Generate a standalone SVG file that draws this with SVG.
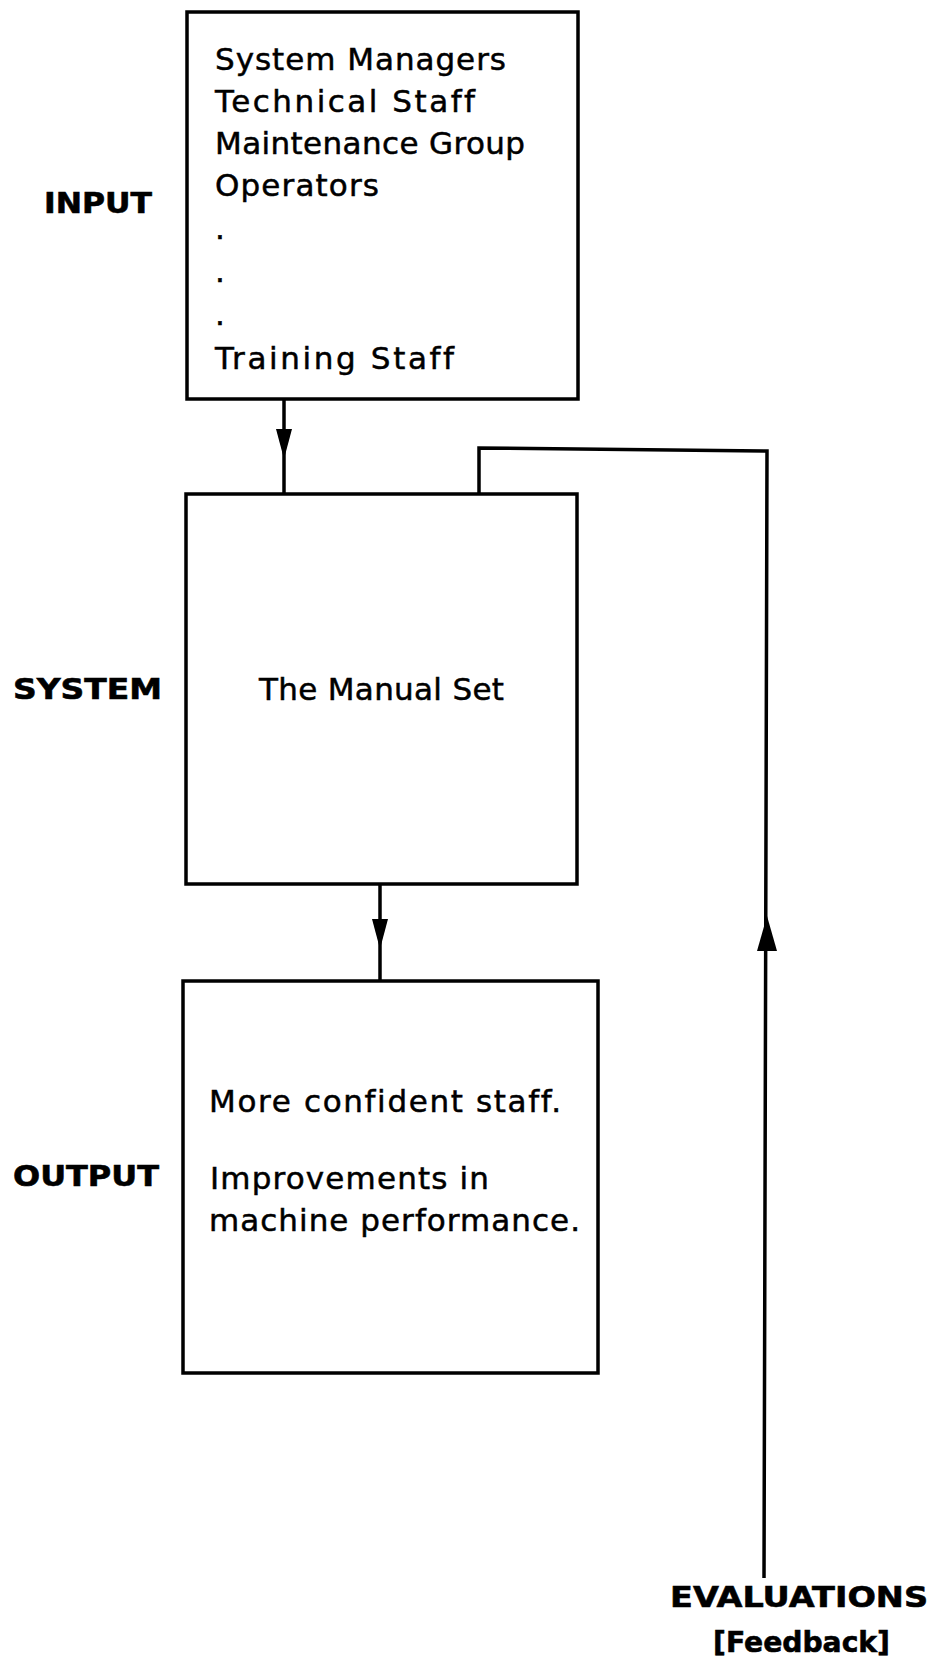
<svg xmlns="http://www.w3.org/2000/svg" width="934" height="1661" viewBox="0 0 934 1661">
  <style>
    .box { fill: #ffffff; stroke: #000000; stroke-width: 3.5; }
    .line { fill: none; stroke: #000000; stroke-width: 3.5; }
    .head { fill: #000000; stroke: none; }
    .body { font-family: "DejaVu Sans", "Liberation Sans", sans-serif; font-size: 31px; fill: #000000; stroke: #000000; stroke-width: 0.5; font-variant-ligatures: none; }
    .label { font-family: "DejaVu Sans", "Liberation Sans", sans-serif; font-size: 29px; font-weight: bold; fill: #000000; stroke: #000000; stroke-width: 0.6; }
  </style>
  <rect width="934" height="1661" fill="#ffffff"/>

  <!-- stage labels -->
  <g id="labels">
    <text class="label" x="44" y="213" textLength="108" lengthAdjust="spacingAndGlyphs">INPUT</text>
    <text class="label" x="13" y="699" textLength="149" lengthAdjust="spacingAndGlyphs">SYSTEM</text>
    <text class="label" x="13" y="1186" textLength="146" lengthAdjust="spacingAndGlyphs">OUTPUT</text>
  </g>

  <!-- input: the audiences -->
  <g id="input">
    <rect class="box" x="187" y="12" width="391" height="387"/>
    <text class="body" x="215" y="70" textLength="291" lengthAdjust="spacing">System Managers</text>
    <text class="body" x="215" y="112" textLength="260" lengthAdjust="spacing">Technical Staff</text>
    <text class="body" x="215" y="154" textLength="310" lengthAdjust="spacing">Maintenance Group</text>
    <text class="body" x="215" y="196" textLength="164" lengthAdjust="spacing">Operators</text>
    <text class="body" x="215" y="239">.</text>
    <text class="body" x="215" y="282">.</text>
    <text class="body" x="215" y="325">.</text>
    <text class="body" x="215" y="369" textLength="239" lengthAdjust="spacing">Training Staff</text>
  </g>

  <!-- system: the manuals -->
  <g id="system">
    <rect class="box" x="186" y="494" width="391" height="390"/>
    <text class="body" x="259" y="700" textLength="245" lengthAdjust="spacing">The Manual Set</text>
  </g>

  <!-- output: the results -->
  <g id="output">
    <rect class="box" x="183" y="981" width="415" height="392"/>
    <text class="body" x="209" y="1112" textLength="352" lengthAdjust="spacing">More confident staff.</text>
    <text class="body" x="210" y="1189" textLength="279" lengthAdjust="spacing">Improvements in</text>
    <text class="body" x="209" y="1231" textLength="371" lengthAdjust="spacing">machine performance.</text>
  </g>

  <!-- feedback label -->
  <g id="evaluations">
    <text class="label" x="670" y="1607" textLength="258" lengthAdjust="spacingAndGlyphs">EVALUATIONS</text>
    <text class="label" x="713" y="1652" font-size="31" textLength="177" lengthAdjust="spacingAndGlyphs">[Feedback]</text>
  </g>

  <!-- connectors -->
  <g id="connectors">
    <line class="line" x1="284" y1="399" x2="284" y2="494"/>
    <polygon class="head" points="276,429 292,429 284,459"/>

    <line class="line" x1="380" y1="884" x2="380" y2="981"/>
    <polygon class="head" points="372,919 388,919 380,949"/>

    <polyline class="line" points="764,1578 767,451 479,448 479,494"/>
    <polygon class="head" points="757,951 777,951 767,916"/>
  </g>
</svg>
